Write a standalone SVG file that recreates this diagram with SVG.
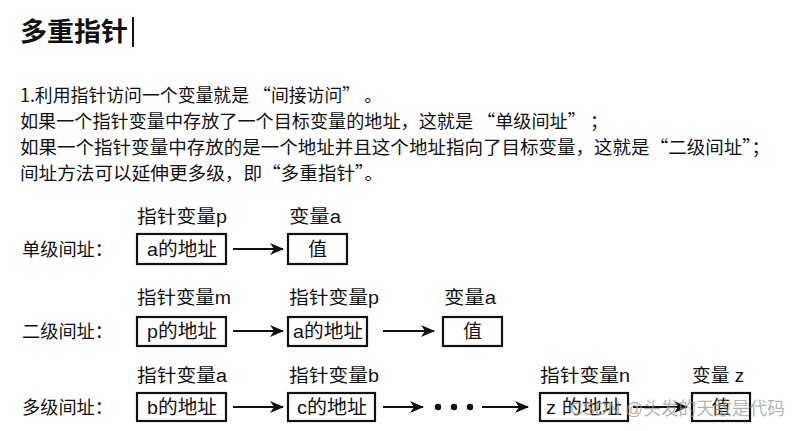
<svg xmlns="http://www.w3.org/2000/svg" width="804" height="431" viewBox="0 0 804 431">
<style>
text{font-family:"Liberation Sans","Noto Sans CJK SC",sans-serif;fill:#111;}
.t{font-size:18px;font-family:"Noto Sans CJK SC","Liberation Sans",sans-serif;}
.d{font-size:18px;}
.b{font-size:19px;}
.c{text-anchor:middle;}
.box{fill:#fff;stroke:#111;stroke-width:2.2;}
.ar{stroke:#111;stroke-width:2.2;fill:none;marker-end:url(#ah);}
.wm{font-size:18px;fill:#9a9a9a;fill-opacity:0.75;}
</style>
<defs>
<marker id="ah" markerWidth="14" markerHeight="12" refX="13" refY="6" orient="auto" markerUnits="userSpaceOnUse">
<path d="M0,0 L14,6 L0,12 L4,6 Z" fill="#111"/>
</marker>
</defs>
<rect width="804" height="431" fill="#fff"/>
<g id="title">
<text x="20" y="41" style="font-size:26px;font-weight:bold" textLength="108" lengthAdjust="spacingAndGlyphs">多重指针</text>
<line x1="133" y1="17" x2="133" y2="47" stroke="#111" stroke-width="2"/>
</g>
<g id="body">
<text class="t" x="20" y="102" textLength="362" lengthAdjust="spacingAndGlyphs">1.利用指针访问一个变量就是 “间接访问” 。</text>
<text class="t" x="20" y="128" textLength="588" lengthAdjust="spacingAndGlyphs">如果一个指针变量中存放了一个目标变量的地址，这就是 “单级间址” ；</text>
<text class="t" x="20" y="154" textLength="750" lengthAdjust="spacingAndGlyphs">如果一个指针变量中存放的是一个地址并且这个地址指向了目标变量，这就是“二级间址”；</text>
<text class="t" x="20" y="180" textLength="363" lengthAdjust="spacingAndGlyphs">间址方法可以延伸更多级，即“多重指针”。</text>
</g>
<g id="row-labels">
<text class="d" x="22" y="256" textLength="91" lengthAdjust="spacingAndGlyphs">单级间址：</text>
<text class="d" x="22" y="338" textLength="91" lengthAdjust="spacingAndGlyphs">二级间址：</text>
<text class="d" x="22" y="414" textLength="91" lengthAdjust="spacingAndGlyphs">多级间址：</text>
</g>
<g id="connectors">
<line class="ar" x1="233" y1="249" x2="283" y2="249"/>
<line class="ar" x1="233" y1="331" x2="283" y2="331"/>
<line class="ar" x1="383" y1="331" x2="434" y2="331"/>
<line class="ar" x1="233" y1="407" x2="283" y2="407"/>
<line class="ar" x1="383" y1="407" x2="423" y2="407"/>
<circle cx="438" cy="407" r="3.2" fill="#111"/>
<circle cx="454" cy="407" r="3.2" fill="#111"/>
<circle cx="470" cy="407" r="3.2" fill="#111"/>
<line class="ar" x1="482" y1="407" x2="528" y2="407"/>
<line class="ar" x1="633" y1="407" x2="687" y2="407"/>
</g>
<g id="n1-p">
<text class="d" x="137" y="223" textLength="90" lengthAdjust="spacingAndGlyphs">指针变量p</text>
<rect class="box" x="137" y="234" width="89" height="30"/>
<text class="b c" x="182" y="256" textLength="70" lengthAdjust="spacingAndGlyphs">a的地址</text>
</g>
<g id="n1-a">
<text class="d" x="289" y="223" textLength="52" lengthAdjust="spacingAndGlyphs">变量a</text>
<rect class="box" x="288" y="234" width="59" height="30"/>
<text class="b c" x="317.5" y="256">值</text>
</g>
<g id="n2-m">
<text class="d" x="137" y="304" textLength="94" lengthAdjust="spacingAndGlyphs">指针变量m</text>
<rect class="box" x="137" y="317" width="89" height="29"/>
<text class="b c" x="182" y="338" textLength="70" lengthAdjust="spacingAndGlyphs">p的地址</text>
</g>
<g id="n2-p">
<text class="d" x="289" y="304" textLength="90" lengthAdjust="spacingAndGlyphs">指针变量p</text>
<rect class="box" x="288" y="317" width="79" height="29"/>
<text class="b c" x="328" y="338" textLength="70" lengthAdjust="spacingAndGlyphs">a的地址</text>
</g>
<g id="n2-a">
<text class="d" x="444" y="304" textLength="52" lengthAdjust="spacingAndGlyphs">变量a</text>
<rect class="box" x="443" y="317" width="59" height="29"/>
<text class="b c" x="472.5" y="338">值</text>
</g>
<g id="n3-a">
<text class="d" x="137" y="382" textLength="90" lengthAdjust="spacingAndGlyphs">指针变量a</text>
<rect class="box" x="137" y="393" width="89" height="28"/>
<text class="b c" x="182" y="414" textLength="70" lengthAdjust="spacingAndGlyphs">b的地址</text>
</g>
<g id="n3-b">
<text class="d" x="289" y="382" textLength="90" lengthAdjust="spacingAndGlyphs">指针变量b</text>
<rect class="box" x="288" y="393" width="87" height="28"/>
<text class="b c" x="332" y="414" textLength="70" lengthAdjust="spacingAndGlyphs">c的地址</text>
</g>
<g id="n3-n">
<text class="d" x="540" y="382" textLength="90" lengthAdjust="spacingAndGlyphs">指针变量n</text>
<rect class="box" x="540" y="393" width="88" height="28"/>
<text class="b c" x="584" y="414" textLength="76" lengthAdjust="spacingAndGlyphs">z 的地址</text>
</g>
<g id="n3-z">
<text class="d" x="692" y="382" textLength="52" lengthAdjust="spacingAndGlyphs">变量 z</text>
<rect class="box" x="692" y="393" width="58" height="28"/>
<text class="b c" x="721" y="414">值</text>
</g>
<text class="wm" x="570" y="415" textLength="215" lengthAdjust="spacingAndGlyphs">CSDN @头发的天敌是代码</text>
</svg>
